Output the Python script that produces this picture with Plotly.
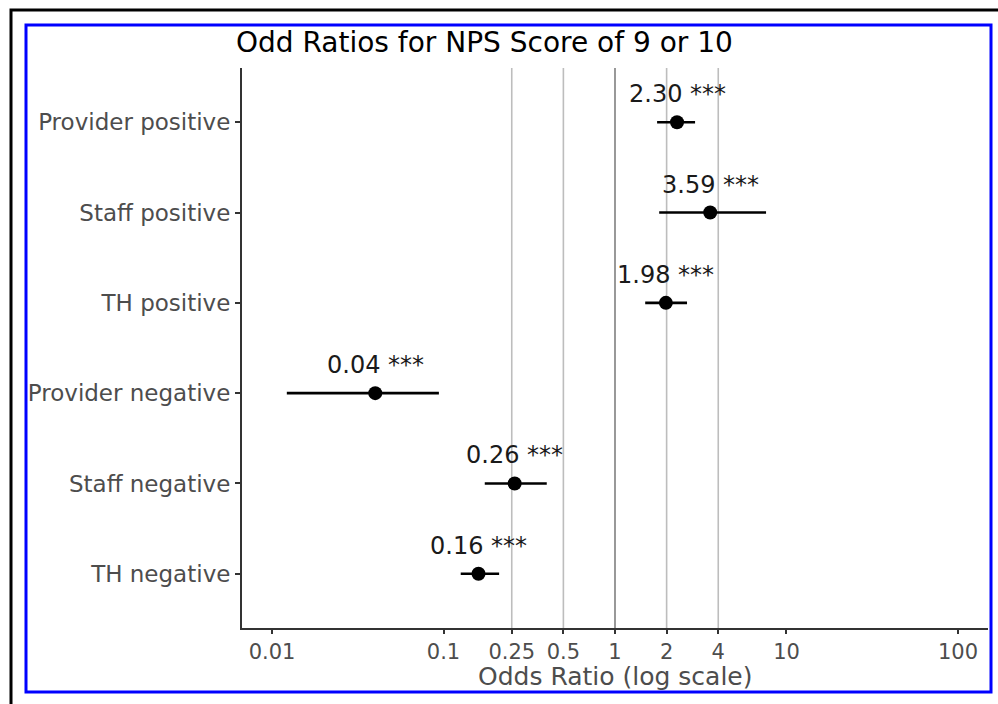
import numpy as np
import plotly.graph_objects as go

categories = ["Provider positive", "Staff positive", "TH positive",
              "Provider negative", "Staff negative", "TH negative"]
odds = [2.30, 3.59, 1.98, 0.04, 0.26, 0.16]
ci_low = [1.76, 1.81, 1.50, 0.0122, 0.174, 0.126]
ci_high = [2.93, 7.6, 2.63, 0.094, 0.40, 0.211]
signif = ["***", "***", "***", "***", "***", "***"]
ref_lines = [0.25, 0.5, 1, 2, 4]
tick_vals = [0.01, 0.1, 0.25, 0.5, 1, 2, 4, 10, 100]
tick_text = ["0.01", "0.1", "0.25", "0.5", "1", "2", "4", "10", "100"]

n = len(categories)
ypos = [n - i for i in range(n)]  # top to bottom

W, H = 998, 704
L, R, T, B = 242, 10, 68, 76
pw, ph = W - L - R, H - T - B

def px_x(p):
    return (p - L) / pw

def px_y(p):
    return (H - B - p) / ph

FONT = "DejaVu Sans"
fig = go.Figure()

# reference vertical lines
for v in ref_lines:
    fig.add_trace(go.Scatter(
        x=[v, v], y=[0.4, n + 0.6], mode="lines",
        line=dict(color="#7f7f7f" if v == 1 else "#bdbdbd", width=1.6),
        hoverinfo="skip", showlegend=False))

fig.add_trace(go.Scatter(
    x=odds, y=ypos, mode="markers",
    marker=dict(color="black", size=14),
    error_x=dict(type="data", symmetric=False,
                 array=[h - o for h, o in zip(ci_high, odds)],
                 arrayminus=[o - l for o, l in zip(odds, ci_low)],
                 color="black", thickness=2.6, width=0),
    showlegend=False))

for o, y, s in zip(odds, ypos, signif):
    fig.add_annotation(x=np.log10(o), y=y, xref="x", yref="y",
                       text=f"{o:.2f} {s}", showarrow=False, yshift=28,
                       font=dict(family=FONT, size=24, color="#1a1a1a"))

fig.add_annotation(x=0.5, y=px_y(676), xref="paper", yref="paper",
                   text="Odds Ratio (log scale)", showarrow=False,
                   xanchor="center", yanchor="middle",
                   font=dict(family=FONT, size=25, color="#4d4d4d"))

# borders
fig.add_shape(type="rect", xref="paper", yref="paper",
              x0=px_x(11), x1=px_x(1010), y0=px_y(720), y1=px_y(10),
              line=dict(color="black", width=3), layer="below")
fig.add_shape(type="rect", xref="paper", yref="paper",
              x0=px_x(26), x1=px_x(991), y0=px_y(692), y1=px_y(25),
              line=dict(color="#0000ff", width=3), layer="below")

fig.update_layout(
    width=W, height=H,
    margin=dict(l=L, r=R, t=T, b=B),
    paper_bgcolor="white", plot_bgcolor="white",
    title=dict(text="Odd Ratios for NPS Score of 9 or 10",
               x=236 / W, xanchor="left",
               y=1 - 42 / H, yanchor="middle",
               font=dict(family=FONT, size=28, color="black")),
    xaxis=dict(type="log", range=[-2.175, 2.175],
               tickvals=tick_vals, ticktext=tick_text,
               showgrid=False, zeroline=False,
               showline=True, linecolor="#333333", linewidth=2,
               ticks="outside", ticklen=4, tickcolor="#333333", tickwidth=1.5,
               tickfont=dict(family=FONT, size=21, color="#4d4d4d")),
    yaxis=dict(range=[0.4, n + 0.6], tickvals=ypos, ticktext=categories,
               showgrid=False, zeroline=False,
               showline=True, linecolor="#333333", linewidth=2,
               ticks="outside", ticklen=5, tickcolor="#333333", tickwidth=1.5,
               tickfont=dict(family=FONT, size=23, color="#4d4d4d")),
)

fig.write_html("out.html", config={"displayModeBar": False},
               post_script="document.body.style.margin='0';document.body.style.overflow='hidden';")
